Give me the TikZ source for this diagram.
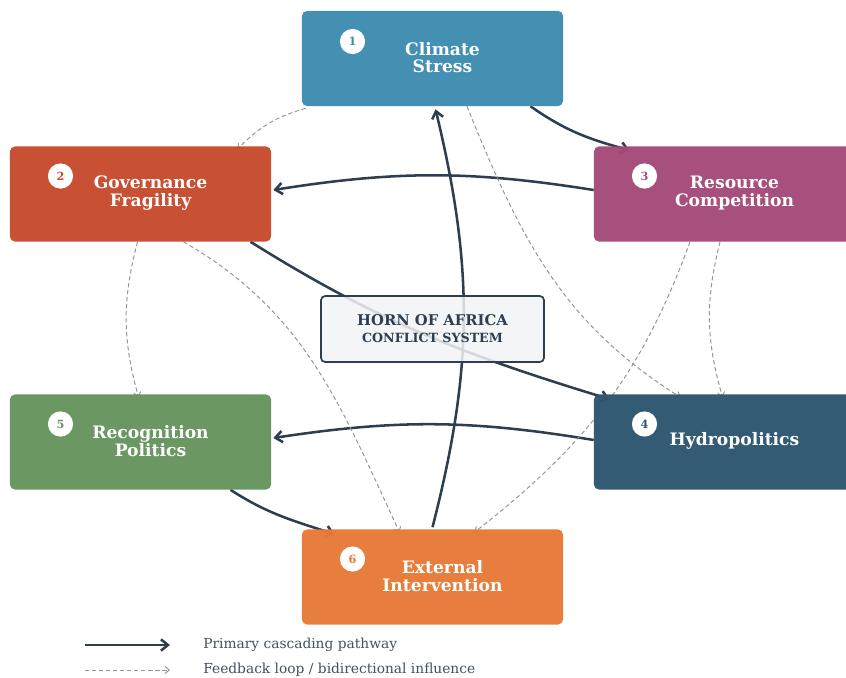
\documentclass[tikz,border=0pt]{standalone}
\usepackage{fontspec}
\setmainfont{DejaVu Serif}
\usepackage{tikz}
\usetikzlibrary{positioning,arrows.meta,calc,backgrounds}
\definecolor{palTeal}{HTML}{3D8CAF}
\definecolor{palRust}{HTML}{C64A2C}
\definecolor{palPlum}{HTML}{A44A7A}
\definecolor{palNavy}{HTML}{2D5670}
\definecolor{palSage}{HTML}{66945E}
\definecolor{palAmber}{HTML}{E77A38}
\definecolor{palInk}{HTML}{2C3E50}
\definecolor{palGrayLn}{HTML}{959595}
\definecolor{palCore}{HTML}{F2F3F5}
\tikzset{
  factorbox/.style={draw=none, rounded corners=3.5pt, minimum width=6.525cm,
                    minimum height=2.375cm, fill opacity=0.97},
  factortext/.style={font=\bfseries\fontsize{12.2}{12.5}\selectfont, text=white,
                     align=center, inner sep=0pt},
  badgenode/.style={circle, fill=white, minimum size=0.63cm, inner sep=0pt,
                    font=\bfseries\fontsize{8}{9}\selectfont},
  corebox/.style={draw=palInk, line width=1.2pt, rounded corners=3pt, fill=palCore,
                  minimum width=5.575cm, minimum height=1.65cm, align=center,
                  fill opacity=0.85, text opacity=1, text=palInk},
  primaryarrow/.style={-{Straight Barb[length=5pt, width=8pt]}, line width=1.8pt,
                       palInk},
  feedbackarrow/.style={-{Straight Barb[length=3pt, width=5pt]},
                        dash pattern=on 3pt off 2pt, line width=0.7pt, palGrayLn},
  legendtext/.style={font=\fontsize{9.8}{11}\selectfont, text=palInk!90, anchor=west,
                     inner sep=0pt},
}
\begin{document}
\begin{tikzpicture}[x=0.025cm, y=0.025cm]
\useasboundingbox (0,0) rectangle (846,-677);
%% Factor boxes
\node[factorbox, fill=palTeal] (climate) at (432.5,-58.5) {};
\node[factorbox, fill=palRust] (gov) at (140.5,-194) {};
\node[factorbox, fill=palPlum] (res) at (724.5,-194) {};
\node[factorbox, fill=palNavy] (hydro) at (724.5,-442) {};
\node[factorbox, fill=palSage] (recog) at (140.5,-442) {};
\node[factorbox, fill=palAmber] (ext) at (432.5,-577) {};
%% Box texts
\node[factortext] (climateTxt) at ($(climate)+(10,1)$) {Climate\\Stress};
\node[factortext] (govTxt) at ($(gov)+(10,1)$) {Governance\\Fragility};
\node[factortext] (resTxt) at ($(res)+(10,1)$) {Resource\\Competition};
\node[factortext] (hydroTxt) at ($(hydro)+(10,1)$) {Hydropolitics};
\node[factortext] (recogTxt) at ($(recog)+(10,1)$) {Recognition\\Politics};
\node[factortext] (extTxt) at ($(ext)+(10,1)$) {External\\Intervention};
%% Number badges
\node[badgenode, text=palTeal] (climateNum) at ($(climate)+(-80,17)$) {1};
\node[badgenode, text=palRust] (govNum) at ($(gov)+(-80,18)$) {2};
\node[badgenode, text=palPlum] (resNum) at ($(res)+(-80,18)$) {3};
\node[badgenode, text=palNavy] (hydroNum) at ($(hydro)+(-80,18)$) {4};
\node[badgenode, text=palSage] (recogNum) at ($(recog)+(-80,18)$) {5};
\node[badgenode, text=palAmber] (extNum) at ($(ext)+(-80,18)$) {6};
%% Core
\node[corebox] (core) at (432.5,-329) {{\bfseries\fontsize{10.5}{13}\selectfont HORN OF AFRICA}\\
  {\bfseries\fontsize{9}{10}\selectfont CONFLICT SYSTEM}};
\begin{scope}[on background layer]
%% Primary pathways
\draw[primaryarrow] ($(climate.south)+(98,0)$) to[out=-35,in=165] ($(res.north west)+(36,-4)$);
\draw[primaryarrow] ($(res.west)+(0,4)$) to[bend right=9] ($(gov.east)+(2,4)$);
\draw[primaryarrow] ($(gov.south)+(110,0)$) to[out=-32,in=163] ($(hydro.north west)+(16,-5)$);
\draw[primaryarrow] ($(hydro.west)+(0,2)$) to[bend right=9] ($(recog.east)+(2,4)$);
\draw[primaryarrow] ($(recog.south)+(90,0)$) to[out=-33,in=162] ($(ext.north west)+(33,-5)$);
\draw[primaryarrow] ($(ext.north)+(0,2)$) to[bend right=14] ($(climate.south)+(3,-3)$);
%% Feedback loops
\draw[feedbackarrow] ($(climate.south west)+(4,-2)$) to[bend right=15] ($(gov.north)+(97,-3)$);
\draw[feedbackarrow] ($(climate.south)+(34.5,0)$) to[out=-68,in=148] ($(hydro.north)+(-44,-3)$);
\draw[feedbackarrow] ($(gov.south)+(-3,0)$) to[bend right=15] ($(recog.north)+(-2,-3)$);
\draw[feedbackarrow] ($(gov.south)+(43,0)$) to[out=-30,in=115] ($(ext.north)+(-33,-3)$);
\draw[feedbackarrow] ($(res.south)+(-34.5,0)$) to[out=-110,in=38] ($(ext.north)+(42,-3)$);
\draw[feedbackarrow] ($(res.south)+(-4.5,0)$) to[bend right=15] ($(hydro.north)+(-2,-3)$);
\end{scope}
%% Legend
\coordinate (lgSolidA) at (85,-645);
\coordinate (lgSolidB) at (170,-645);
\coordinate (lgDashA) at (85,-670);
\coordinate (lgDashB) at (170,-670);
\draw[primaryarrow] (lgSolidA) -- (lgSolidB);
\draw[feedbackarrow] (lgDashA) -- (lgDashB);
\node[legendtext, right=0.825cm of lgSolidB] (lgSolidTxt) {Primary cascading pathway};
\node[legendtext, right=0.825cm of lgDashB] (lgDashTxt) {Feedback loop / bidirectional influence};
\end{tikzpicture}
\end{document}
